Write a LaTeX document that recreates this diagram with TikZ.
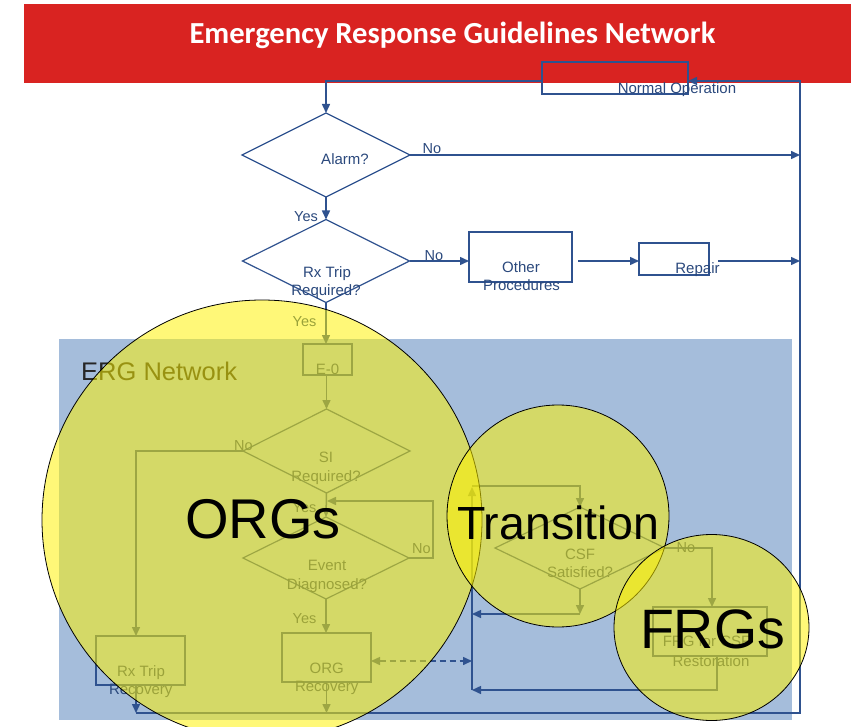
\documentclass[tikz,border=0pt]{standalone}
\usepackage{fontspec}
\setmainfont{Liberation Sans}
\newfontfamily\titlefont{Carlito}
\usetikzlibrary{shapes.geometric,arrows.meta}
\definecolor{bannerred}{RGB}{217,35,33}
\definecolor{lineblue}{RGB}{47,82,143}
\definecolor{textblue}{RGB}{42,72,124}
\definecolor{ergblue}{RGB}{165,189,219}
\definecolor{ergtext}{RGB}{38,38,38}
\begin{document}
\begin{tikzpicture}[x=1pt,y=-1pt,
  box/.style={draw=lineblue, line width=1.4pt, rectangle, inner sep=0pt, outer sep=0pt},
  decision/.style={draw=lineblue, line width=1.2pt, diamond, inner sep=0pt, outer sep=0pt},
  conn/.style={draw=lineblue, line width=1.5pt, -{Triangle[length=9pt,width=8pt]}},
  dashconn/.style={draw=lineblue, line width=1.5pt, dash pattern=on 6pt off 4pt,
    {Triangle[length=9pt,width=8pt]}-{Triangle[length=9pt,width=8pt]}},
  lbl/.style={text=textblue, font=\fontsize{15}{18}\selectfont, inner sep=0pt, anchor=base},
  yn/.style={text=textblue, font=\fontsize{14.5}{17}\selectfont, inner sep=0pt},
  bubble/.style={fill=yellow, fill opacity=.53, draw=black, draw opacity=1,
    line width=0.8pt, inner sep=0pt, outer sep=0pt},
  big/.style={text=black, inner sep=0pt, anchor=base}
]
\useasboundingbox (0,0) rectangle (851,727);
\clip (0,0) rectangle (851,727);

% title banner
\fill[bannerred] (24,4) rectangle (851,83);
\node[font=\titlefont\bfseries\fontsize{30.6}{36}\selectfont, text=white, inner sep=0pt, anchor=base]
  (title) at (452.5,43.3) {Emergency Response Guidelines Network};

% ERG network panel
\fill[ergblue] (59,339) rectangle (792,720);
\node[font=\fontsize{25.5}{30}\selectfont, text=ergtext, inner sep=0pt, anchor=base west]
  (ergtitle) at (81,380.7) {ERG Network};

% flowchart shapes
\node[box, minimum width=146pt, minimum height=32pt] (nop) at (615,78) {};
\node[decision, minimum width=168pt, minimum height=84pt] (alarm) at (326,155) {};
\node[decision, minimum width=167pt, minimum height=83pt] (rxq) at (326,261) {};
\node[box, minimum width=103pt, minimum height=50pt] (other) at (520.5,257) {};
\node[box, minimum width=70pt, minimum height=32pt] (repair) at (674,259) {};
\node[box, minimum width=49pt, minimum height=31pt] (e0) at (327.5,359.5) {};
\node[decision, minimum width=167pt, minimum height=84pt] (si) at (326.5,451) {};
\node[decision, minimum width=166pt, minimum height=82pt] (evt) at (326,558) {};
\node[box, minimum width=89pt, minimum height=49pt] (rxrec) at (140.5,660.5) {};
\node[box, minimum width=89pt, minimum height=49pt] (orgrec) at (326.5,657.5) {};
\node[decision, minimum width=170pt, minimum height=82pt] (csf) at (580,548) {};
\node[box, minimum width=114pt, minimum height=49pt] (frg) at (710,631.5) {};

% connector bend and end points
\coordinate (nopW) at (542,81);
\coordinate (nopE) at (688,81);
\coordinate (rtop) at (800,81);
\coordinate (rbot) at (800,713);
\coordinate (bleft) at (136,713);
\coordinate (rxrecB) at (136,685);
\coordinate (rxrecT) at (136,636);
\coordinate (otherE) at (578,261);
\coordinate (repairW) at (639,261);
\coordinate (repairE) at (718,261);
\coordinate (loopR1) at (433,558);
\coordinate (loopR2) at (433,501);
\coordinate (loopEnd) at (327,501);
\coordinate (orgE) at (371,661);
\coordinate (busDash) at (472,661);
\coordinate (busTop) at (472,487);
\coordinate (busCorner) at (472,486);
\coordinate (busBot) at (472,690);
\coordinate (csfOut) at (580,614);
\coordinate (busMid) at (472,614);
\coordinate (frgIn) at (712,607);
\coordinate (frgOut) at (717,656);

% connectors
\draw[conn] (nopW) -| (alarm.north);
\draw[conn] (alarm.east) -- (alarm.east -| rtop);
\draw[conn] (alarm.south) -- (rxq.north);
\draw[conn] (rxq.east) -- (rxq.east -| other.west);
\draw[conn] (otherE) -- (repairW);
\draw[conn] (repairE) -- (repairE -| rtop);
\draw[conn] (rxq.south) -- (rxq.south |- e0.north);
\draw[conn] (si.north |- e0.south) -- (si.north);
\draw[conn] (si.west) -| (rxrecT);
\draw[conn] (si.south) -- (evt.north);
\draw[conn] (evt.east) -- (loopR1) -- (loopR2) -- (loopEnd);
\draw[conn] (evt.south) -- (evt.south |- orgrec.north);
\draw[conn] (rxrecB) -- (bleft);
\draw[conn] (orgrec.south) -- (orgrec.south |- bleft);
\draw[conn] (bleft) -- (rbot) -- (rtop) -- (nopE);
\draw[dashconn] (orgE) -- (busDash);
\draw[conn] (busBot) -- (busTop);
\draw[conn] (busCorner) -| (csf.north);
\draw[conn] (csf.south) -- (csfOut);
\draw[conn] (csfOut) -- (busMid);
\draw[conn] (csf.east) -| (frgIn);
\draw[conn] (frgOut) |- (busBot);

% shape texts
\node[lbl] (tNop) at (677,93.3) {Normal Operation};
\node[lbl] (tAlarm) at (345,164.3) {Alarm?};
\node[lbl] (tRx1) at (327,277.3) {Rx Trip};
\node[lbl] (tRx2) at (326,295.6) {Required?};
\node[lbl] (tOther1) at (521,272.3) {Other};
\node[lbl] (tOther2) at (521.5,290.7) {Procedures};
\node[lbl] (tRepair) at (697.5,274) {Repair};
\node[lbl] (tE0) at (327.5,374.5) {E-0};
\node[lbl] (tSi1) at (326,462.3) {SI};
\node[lbl] (tSi2) at (326,481) {Required?};
\node[lbl] (tEvt1) at (327,570.7) {Event};
\node[lbl] (tEvt2) at (327,589) {Diagnosed?};
\node[lbl] (tOrg1) at (326.7,673.3) {ORG};
\node[lbl] (tOrg2) at (326.7,691.5) {Recovery};
\node[lbl] (tRr1) at (141,676.7) {Rx Trip};
\node[lbl] (tRr2) at (140.7,694.5) {Recovery};
\node[lbl] (tCsf1) at (580,559) {CSF};
\node[lbl] (tCsf2) at (580,577.7) {Satisfied?};
\node[lbl] (tFrg1) at (706.5,646.7) {FRG for CSF};
\node[lbl] (tFrg2) at (711,666) {Restoration};

% branch labels
\node[yn] (ynA1) at (432,148.5) {No};
\node[yn] (ynA2) at (306,217) {Yes};
\node[yn] (ynR1) at (434,255.5) {No};
\node[yn] (ynR2) at (304.5,321.5) {Yes};
\node[yn] (ynS1) at (243.5,446) {No};
\node[yn] (ynS2) at (304.5,508) {Yes};
\node[yn] (ynE1) at (421.5,548.5) {No};
\node[yn] (ynE2) at (304.5,618.5) {Yes};
\node[yn] (ynC1) at (686,548) {No};

% guideline groups
\node[bubble, circle, minimum size=440pt] (orgs) at (262,520) {};
\node[bubble, circle, minimum size=222pt] (trans) at (558,516) {};
\node[bubble, ellipse, minimum width=195pt, minimum height=186pt] (frgs) at (711.5,627.5) {};

\node[big, font=\fontsize{56}{60}\selectfont] (tOrgs) at (263,538.3) {ORGs};
\node[big, font=\fontsize{46.5}{50}\selectfont] (tTrans) at (558.5,539.3) {Transition};
\node[big, font=\fontsize{55.5}{60}\selectfont] (tFrgs) at (712.5,648.3) {FRGs};
\end{tikzpicture}
\end{document}
